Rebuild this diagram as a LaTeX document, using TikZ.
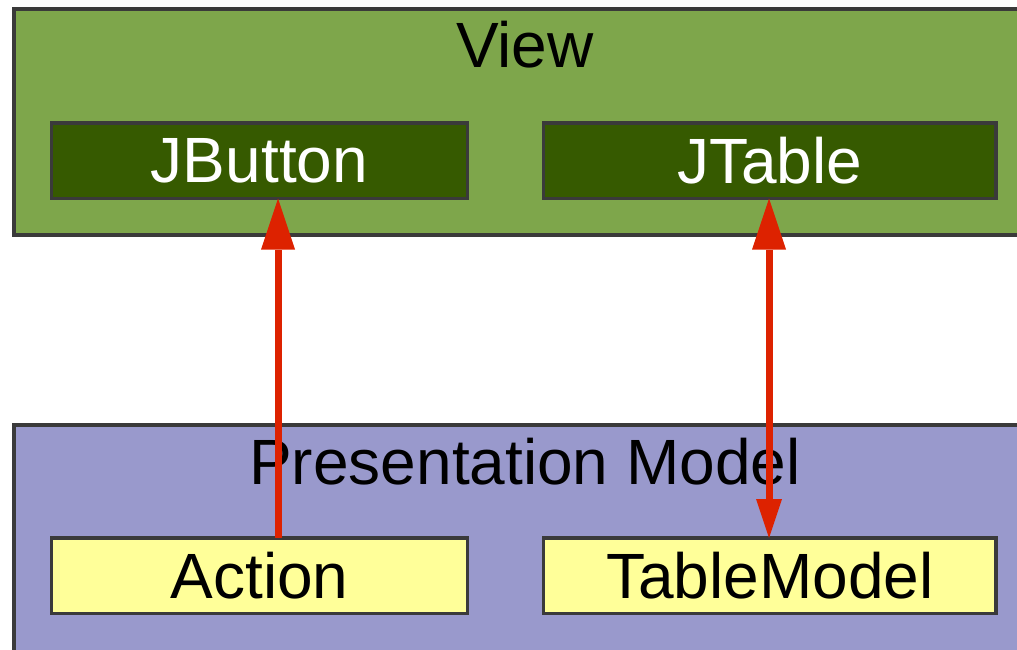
\documentclass[tikz,border=0pt]{standalone}
\usepackage{fontspec}
\setmainfont{Liberation Sans}
\usetikzlibrary{arrows.meta}

\definecolor{viewgreen}{HTML}{7EA64B}
\definecolor{widgetgreen}{HTML}{365A00}
\definecolor{pmpurple}{HTML}{9999CC}
\definecolor{modelyellow}{HTML}{FFFF99}
\definecolor{linkred}{HTML}{DD2200}
\definecolor{edgegray}{HTML}{3A3A3A}

\tikzset{
  panel/.style={draw=edgegray, line width=4pt, rectangle, inner sep=0pt, outer sep=0pt},
  widget/.style={draw=edgegray, line width=3.5pt, rectangle, inner sep=0pt, outer sep=0pt,
    fill=widgetgreen, text=white, font=\fontsize{64}{70}\selectfont},
  modelbox/.style={draw=edgegray, line width=3.5pt, rectangle, inner sep=0pt, outer sep=0pt,
    fill=modelyellow, text=black, font=\fontsize{64}{70}\selectfont},
  title/.style={anchor=base, inner sep=0pt, font=\fontsize{64}{70}\selectfont},
  link/.style={draw=linkred, line width=7pt},
  bighead/.tip={Triangle[length=51pt, width=34pt, line width=0pt]},
  smallhead/.tip={Triangle[length=39pt, width=26pt, line width=0pt]}
}

\begin{document}
\begin{tikzpicture}[x=1pt, y=-1pt]
  \useasboundingbox (0,0) rectangle (1017,650);
  \begin{scope}
    \clip (0,0) rectangle (1017,650);

    % the two layers
    \node (view) [panel, fill=viewgreen, minimum width=1030pt, minimum height=226pt]
      at (528.5,122) {};
    \node (pm) [panel, fill=pmpurple, minimum width=1030pt, minimum height=260pt]
      at (528.5,555) {};

    \node (viewtitle) [title] at (525,68) {View};
    \node (pmtitle) [title] at (525,484) {Presentation Model};

    % Swing components
    \node (jbutton) [widget, minimum width=416pt, minimum height=75.5pt]
      at (259.5,160.75) {JButton};
    \node (jtable) [widget, minimum width=452.5pt, minimum height=75.5pt]
      at (769.75,160.75) {JTable};

    % presentation model parts
    \node (action) [modelbox, minimum width=416pt, minimum height=75.5pt]
      at (259.5,575.75) {Action};
    \node (tablemodel) [modelbox, minimum width=452.5pt, minimum height=75.5pt]
      at (769.75,575.75) {TableModel};

    % bindings
    \draw[link, -bighead] ([xshift=18.5pt]action.north) -- ([xshift=18.5pt]jbutton.south);
    \draw[link, bighead-smallhead] ([xshift=-0.75pt]jtable.south) -- ([xshift=-0.75pt]tablemodel.north);
  \end{scope}
\end{tikzpicture}
\end{document}
